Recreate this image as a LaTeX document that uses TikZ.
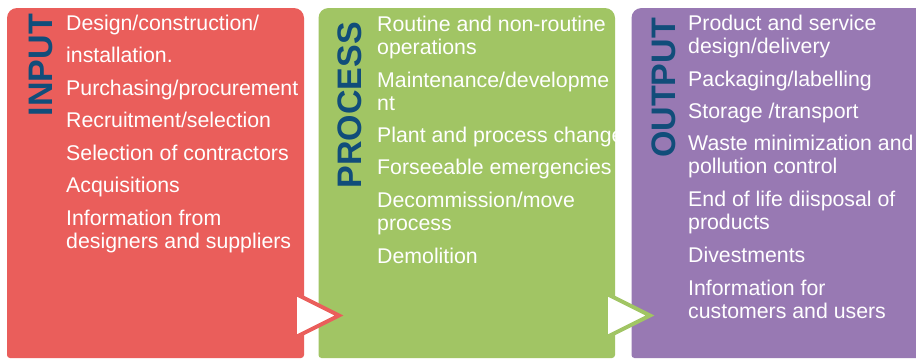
\documentclass[tikz,border=0pt]{standalone}
\usepackage{fontspec}
\setmainfont{Liberation Sans}
\definecolor{boxred}{HTML}{EA5E5B}
\definecolor{boxgreen}{HTML}{A1C564}
\definecolor{boxpurple}{HTML}{9879B3}
\definecolor{titleblue}{HTML}{114D7A}
\newcommand\panelbox[3]{%
  \fill[#1] (#2,300) [rounded corners=10pt] -- (#2,8) -- (#3,8) -- (#3,300) [rounded corners=3pt] -- (#3,358) -- (#2,358) -- cycle;}
\begin{document}
\begin{tikzpicture}[x=1pt,y=-1pt,
  item/.style={anchor=base west, inner sep=0pt, text=white, font=\fontsize{21.3}{23}\selectfont},
  paneltitle/.style={anchor=base east, inner sep=0pt, rotate=90, text=titleblue, font=\fontsize{34}{36}\selectfont\bfseries},
  tri/.style={fill=white, line width=4pt, line join=miter}]
\clip (0,0) rectangle (916,359);
\fill[white] (0,0) rectangle (916,359);
\panelbox{boxred}{7}{304}
\panelbox{boxgreen}{318.5}{615}
\panelbox{boxpurple}{631.5}{940}
% titles
\node[paneltitle] (tin) at (52,14) {INPUT};
\node[paneltitle] (tpr) at (361.5,22) {PROCESS};
\node[paneltitle] (tout) at (675,18) {OUTPUT};
% input items
\node[item] (i1) at (66,30) {Design/construction/};
\node[item] (i2) at (66,62.5) {installation.};
\node[item] (i3) at (66,95) {Purchasing/procurement};
\node[item] (i4) at (66,127.5) {Recruitment/selection};
\node[item] (i5) at (66,160) {Selection of contractors};
\node[item] (i6) at (66,192.5) {Acquisitions};
\node[item] (i7) at (66,225) {Information from};
\node[item] (i7b) at (66,248) {designers and suppliers};
% process items
\begin{scope}
\clip (318.5,8) rectangle (615,358);
\node[item] (p1) at (377,31) {Routine and non-routine};
\node[item] (p1b) at (377,54) {operations};
\node[item] (p2) at (377,87) {Maintenance/developme};
\node[item] (p2b) at (377,110) {nt};
\node[item] (p3) at (377,142.5) {Plant and process change};
\node[item] (p4) at (377,174.5) {Forseeable emergencies};
\node[item] (p5) at (377,207) {Decommission/move};
\node[item] (p5b) at (377,230) {process};
\node[item] (p6) at (377,263) {Demolition};
\end{scope}
% output items
\node[item] (o1) at (688,30) {Product and service};
\node[item] (o1b) at (688,53) {design/delivery};
\node[item] (o2) at (688,86) {Packaging/labelling};
\node[item] (o3) at (688,118) {Storage /transport};
\node[item] (o4) at (688,150.5) {Waste minimization and};
\node[item] (o4b) at (688,173.5) {pollution control};
\node[item] (o5) at (688,206) {End of life diisposal of};
\node[item] (o5b) at (688,229.5) {products};
\node[item] (o6) at (688,262.5) {Divestments};
\node[item] (o7) at (688,295.5) {Information for};
\node[item] (o7b) at (688,318.5) {customers and users};
% arrows
\coordinate (a1t) at (297,294.5);
\coordinate (a1p) at (339,315.5);
\coordinate (a1b) at (297,336.5);
\filldraw[tri, draw=boxred] (a1t) -- (a1p) -- (a1b);
\coordinate (a2t) at (608,294.5);
\coordinate (a2p) at (650,315.5);
\coordinate (a2b) at (608,336.5);
\filldraw[tri, draw=boxgreen] (a2t) -- (a2p) -- (a2b);
\end{tikzpicture}
\end{document}
